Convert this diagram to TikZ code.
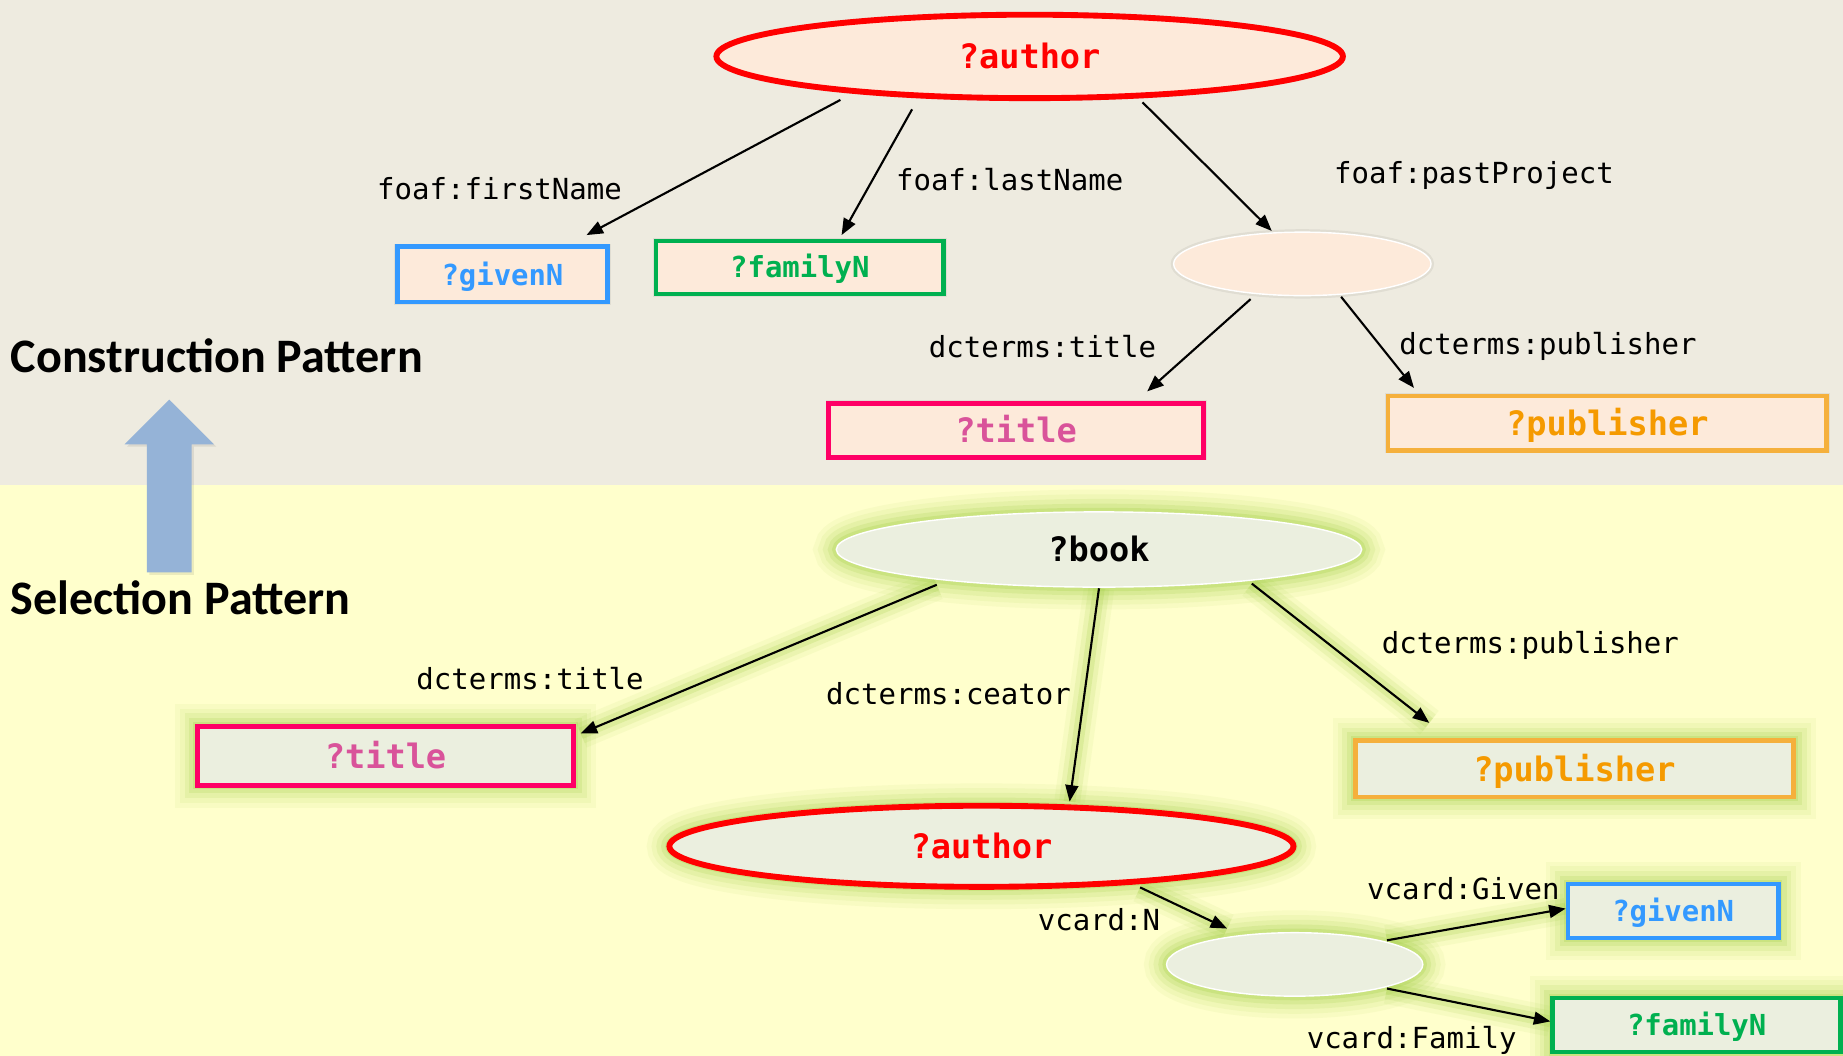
\documentclass[tikz,border=0pt]{standalone}
\usepackage{fontspec}
\setmainfont{Carlito}
\newfontfamily\monofont{DejaVu Sans Mono}
\usetikzlibrary{shapes.geometric,arrows.meta,calc}
\definecolor{bgtop}{HTML}{EEEBE0}
\definecolor{bgbot}{HTML}{FFFFCC}
\definecolor{peach}{HTML}{FDEADA}
\definecolor{sage}{HTML}{EBEFDF}
\definecolor{glowc}{HTML}{A2CF45}
\definecolor{pinkb}{HTML}{FF0066}
\definecolor{pinkt}{HTML}{D9539A}
\definecolor{greenb}{HTML}{00B050}
\definecolor{blueb}{HTML}{3399FF}
\definecolor{orangeb}{HTML}{F5B03C}
\definecolor{oranget}{HTML}{F59A00}
\definecolor{arrowblue}{HTML}{95B3D7}
\pgfdeclarelayer{bg}
\pgfsetlayers{bg,main}
\newcommand{\myglowedge}[2]{%
  \begin{pgfonlayer}{bg}\draw[eglow] #1 -- #2;\end{pgfonlayer}%
  \draw[arr] #1 -- #2;}
\tikzset{
  lbl/.style={font=\monofont\fontsize{24.7}{26}\selectfont, inner sep=0pt, text height=18pt, text depth=0pt},
  big/.style={font=\monofont\bfseries\fontsize{28.6}{30}\selectfont, text height=21pt, text depth=0pt},
  small/.style={font=\monofont\bfseries\fontsize{24.6}{26}\selectfont, text height=18pt, text depth=0pt},
  head/.style={font=\bfseries\fontsize{40.9}{44}\selectfont, inner sep=0pt, text height=26pt, text depth=0pt},
  ell/.style={ellipse, inner sep=0pt},
  box/.style={rectangle, inner sep=0pt, line width=4pt},
  shd/.style={preaction={draw=black, line width=5pt, opacity=0.06}},
  gl/.style={preaction={draw=glowc, line width=38pt, opacity=0.07},
             preaction={draw=glowc, line width=30pt, opacity=0.09},
             preaction={draw=glowc, line width=22pt, opacity=0.13},
             preaction={draw=glowc, line width=14pt, opacity=0.18},
             preaction={draw=glowc, line width=7pt, opacity=0.25}},
  eglow/.style={arrows=-, draw=glowc, line width=26pt, opacity=0.08,
             preaction={draw=glowc, line width=18pt, opacity=0.13},
             preaction={draw=glowc, line width=10pt, opacity=0.2}},
  arr/.style={-{Triangle[length=14pt,width=11pt]}, line width=1.8pt, draw=black}
}
\begin{document}
\begin{tikzpicture}[x=1pt,y=-1pt]
\useasboundingbox (0,0) rectangle (1568,898);
\begin{pgfonlayer}{bg}
  \fill[bgtop] (0,0) rectangle (1568,413);
  \fill[bgbot] (0,413) rectangle (1568,898);
  \fill[black, opacity=0.08] (127,489) -- (127,380) -- (108,380) -- (146,342) -- (184,380) -- (165,380) -- (165,489) -- cycle;
\end{pgfonlayer}

% big up arrow
\fill[arrowblue] (125,487) -- (125,378) -- (106,378) -- (144,340) -- (182,378) -- (163,378) -- (163,487) -- cycle;

% headings
\node[head, anchor=west] (hc) at (9,304) {Construction Pattern};
\node[head, anchor=west] (hs) at (9,510) {Selection Pattern};

% ---------- construction pattern ----------
\node[ell, shd, draw=red, line width=5pt, fill=peach, minimum width=533pt, minimum height=71pt, text=red, big] (aT) at (876,48) {?author};
\node[box, shd, draw=blueb, fill=peach, minimum width=179pt, minimum height=47pt, text=blueb, small] (gT) at (427.5,233.5) {?givenN};
\node[box, shd, draw=greenb, fill=peach, minimum width=245pt, minimum height=45pt, text=greenb, small] (fT) at (680.5,227.5) {?familyN};
\node[ell, shd, draw=white, line width=1.2pt, fill=peach, minimum width=219pt, minimum height=54pt] (bT) at (1108,224.5) {};
\node[box, shd, draw=pinkb, fill=peach, minimum width=319pt, minimum height=46pt, text=pinkt, big] (tT) at (864.5,366) {?title};
\node[box, shd, draw=orangeb, fill=peach, minimum width=373pt, minimum height=46pt, text=oranget, big] (pT) at (1367.5,360) {?publisher};

\draw[arr] ($(aT)+(-161,37)$) -- ($(gT)+(71.5,-33.5)$);
\draw[arr] ($(aT)+(-100,45)$) -- ($(fT)+(35.5,-27.5)$);
\draw[arr] ($(aT)+(96,39)$) -- ($(bT)+(-26,-28)$);
\draw[arr] ($(bT)+(-44,30)$) -- ($(tT)+(111.5,-33)$);
\draw[arr] ($(bT)+(33,28)$) -- ($(pT)+(-164.5,-30)$);

\node[lbl] (l1) at (425,161) {foaf:firstName};
\node[lbl] (l2) at (859,153) {foaf:lastName};
\node[lbl] (l3) at (1254,147) {foaf:pastProject};
\node[lbl] (l4) at (887,295) {dcterms:title};
\node[lbl] (l5) at (1317,293) {dcterms:publisher};

% ---------- selection pattern ----------
\node[ell, gl, draw=white, line width=1.2pt, fill=sage, minimum width=447pt, minimum height=64pt, big, text=black] (bk) at (935,467.5) {?book};
\node[box, gl, draw=pinkb, fill=sage, minimum width=320pt, minimum height=50pt, text=pinkt, big] (tB) at (328,643) {?title};
\node[box, gl, draw=orangeb, fill=sage, minimum width=373pt, minimum height=48pt, text=oranget, big] (pB) at (1339.5,654) {?publisher};
\node[ell, gl, draw=red, line width=5pt, fill=sage, minimum width=531pt, minimum height=69pt, text=red, big] (aB) at (835,720) {?author};
\node[ell, gl, draw=white, line width=1.2pt, fill=sage, minimum width=218pt, minimum height=54pt] (eB) at (1101.5,820.5) {};
\node[box, gl, draw=blueb, fill=sage, minimum width=179pt, minimum height=46pt, text=blueb, small] (gB) at (1423.5,775) {?givenN};
\node[box, gl, draw=greenb, fill=sage, minimum width=245pt, minimum height=46pt, text=greenb, small] (fB) at (1443.5,872) {?familyN};

\myglowedge{($(bk)+(-138,30)$)}{($(tB)+(166,-19)$)}
\myglowedge{($(bk)+(0,33)$)}{($(aB)+(75,-38)$)}
\myglowedge{($(bk)+(130,29)$)}{($(pB)+(-123.5,-39)$)}
\myglowedge{($(aB)+(135,35)$)}{($(eB)+(-57.5,-30.5)$)}
\myglowedge{($(eB)+(78.5,-20.5)$)}{($(gB)+(-91.5,-2)$)}
\myglowedge{($(eB)+(78.5,20.5)$)}{($(fB)+(-124.5,-3)$)}

\node[lbl] (m1) at (451,578) {dcterms:title};
\node[lbl] (m2) at (807,590) {dcterms:ceator};
\node[lbl] (m3) at (1302,547) {dcterms:publisher};
\node[lbl] (m4) at (935,783) {vcard:N};
\node[lbl] (m5) at (1245,756) {vcard:Given};
\node[lbl] (m6) at (1201,883) {vcard:Family};
\end{tikzpicture}
\end{document}
